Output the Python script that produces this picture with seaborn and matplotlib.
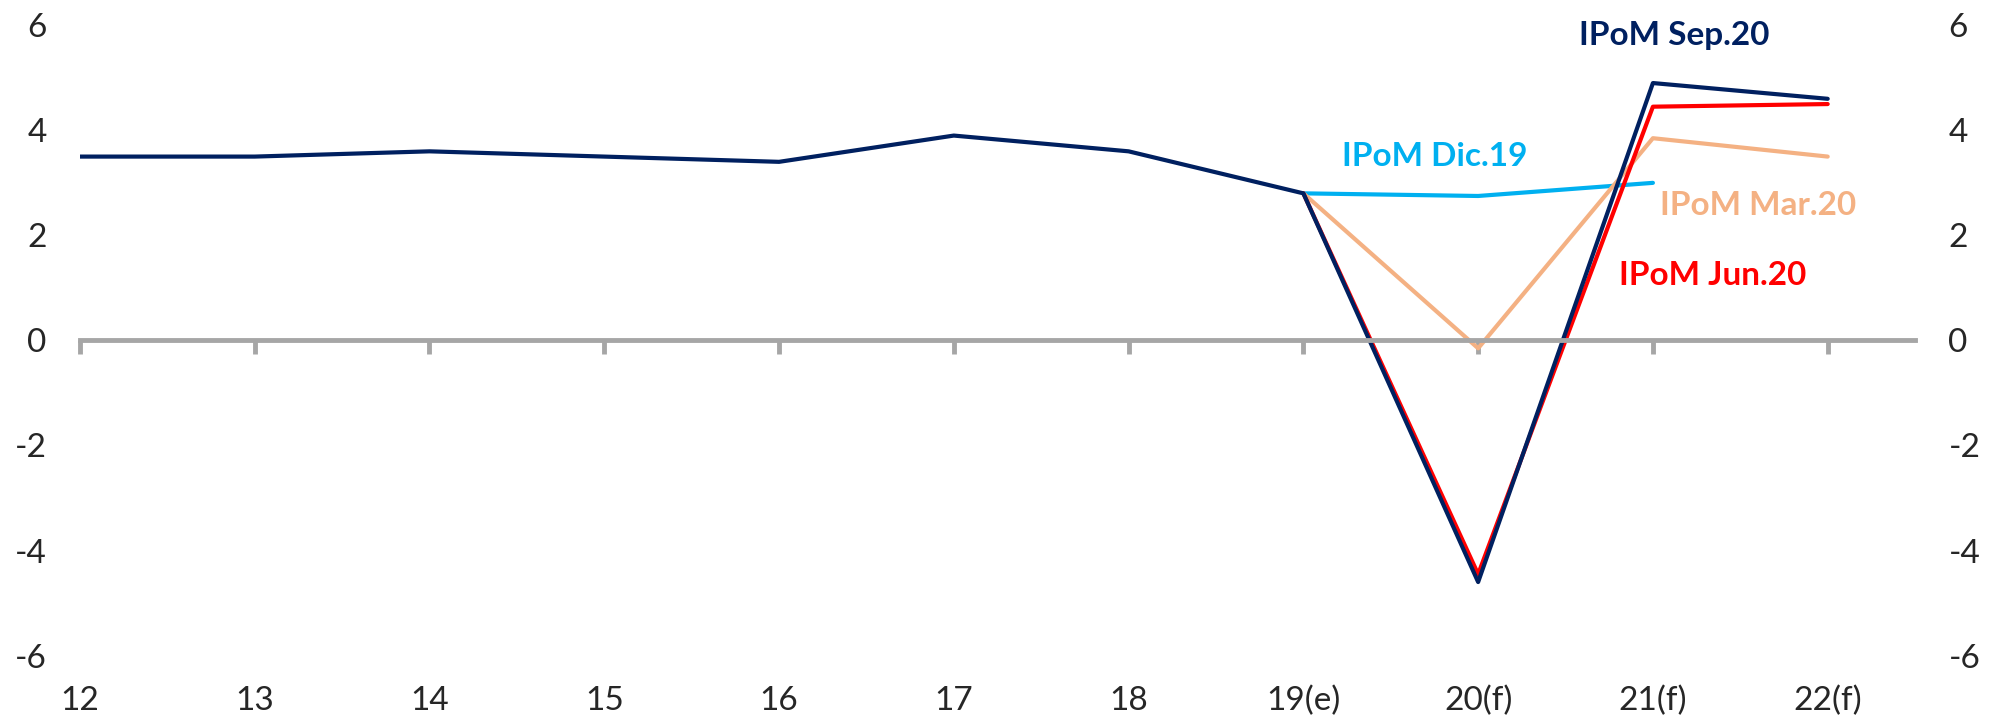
import numpy as np
import pandas as pd
import matplotlib
matplotlib.use("Agg")
import matplotlib.pyplot as plt
import seaborn as sns

# data
years = ["12", "13", "14", "15", "16", "17", "18", "19(e)", "20(f)", "21(f)", "22(f)"]
dic19 = [np.nan] * 7 + [2.8, 2.75, 3.0, np.nan]
mar20 = [np.nan] * 7 + [2.8, -0.15, 3.85, 3.5]
jun20 = [np.nan] * 7 + [2.8, -4.45, 4.45, 4.5]
sep20 = [3.5, 3.5, 3.6, 3.5, 3.4, 3.9, 3.6, 2.8, -4.6, 4.9, 4.6]

series_names = ["IPoM Dic.19", "IPoM Mar.20", "IPoM Jun.20", "IPoM Sep.20"]
series_vals = [dic19, mar20, jun20, sep20]
colors = ["#00B0F0", "#F4B183", "#FF0000", "#002060"]

# label spots (x index, y value)
label_pos = [(7.75, 3.5), (9.6, 2.57), (9.34, 1.24), (9.12, 5.8)]

sns.set_style("white")
plt.rcParams["font.family"] = ["Lato", "DejaVu Sans"]
plt.rcParams["axes.unicode_minus"] = False

fig = plt.figure(figsize=(19.98, 7.22), dpi=100)
ax = fig.add_axes([0.040, 0.092, 0.9185, 0.873])

for name, vals, col in zip(series_names, series_vals, colors):
    df = pd.DataFrame({"x": np.arange(len(years)), "y": vals}).dropna()
    sns.lineplot(data=df, x="x", y="y", color=col, linewidth=3.0, ax=ax, sort=False)

for name, (lx, ly), col in zip(series_names, label_pos, colors):
    ax.text(lx, ly, name, color=col, fontsize=24, fontweight="bold",
            ha="center", va="center")

ax.set_xlim(0, 10.5)
ax.set_ylim(-6, 6)
ax.set_yticks([-6, -4, -2, 0, 2, 4, 6])
ax.set_xlabel("")
ax.set_ylabel("")

# zero axis with gray ticks
for side in ["top", "right", "left"]:
    ax.spines[side].set_visible(False)
ax.spines["bottom"].set_position(("data", 0))
ax.spines["bottom"].set_color("#A6A6A6")
ax.spines["bottom"].set_linewidth(3.5)
ax.set_xticks(np.arange(len(years)))
ax.tick_params(axis="x", bottom=True, direction="out", length=10, width=3.5,
               color="#A6A6A6", labelbottom=False)
ax.tick_params(axis="y", length=0, labelsize=24, pad=24)

# category labels along the bottom
sec = ax.secondary_xaxis("bottom")
sec.set_xticks(np.arange(len(years)))
sec.set_xticklabels(years)
sec.tick_params(length=0, labelsize=24, pad=22)
sec.spines["bottom"].set_visible(False)

# mirrored axis on the right
ax2 = ax.twinx()
ax2.set_ylim(-6, 6)
ax2.set_yticks([-6, -4, -2, 0, 2, 4, 6])
ax2.tick_params(axis="y", length=0, labelsize=24, pad=24)
for side in ["top", "right", "left", "bottom"]:
    ax2.spines[side].set_visible(False)

fig.savefig("out.png", dpi=100)
